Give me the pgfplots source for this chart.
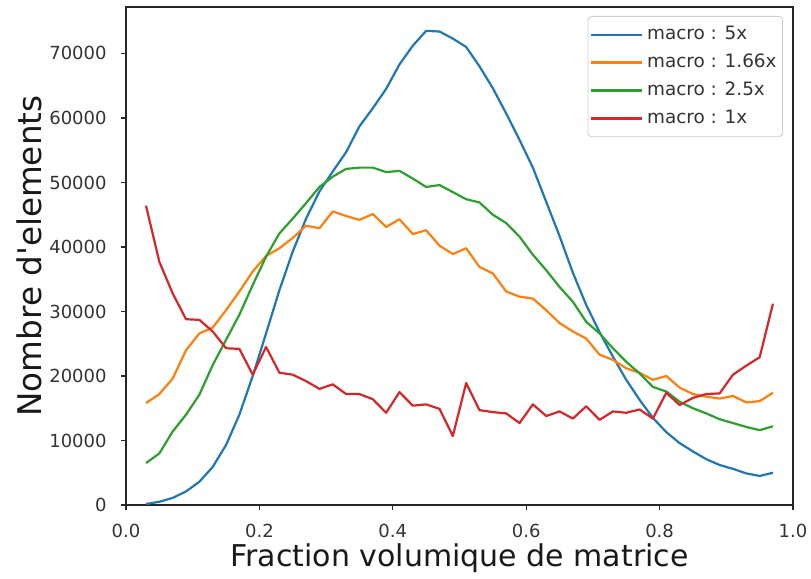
\documentclass[border=0pt]{standalone}
\usepackage{pgfplots}
\usepackage{pgfplotstable}
\pgfplotsset{compat=1.18}
\usepackage{fontspec}
\setmainfont{DejaVu Sans}
\definecolor{tabblue}{HTML}{1F77B4}
\definecolor{taborange}{HTML}{FF7F0E}
\definecolor{tabgreen}{HTML}{2CA02C}
\definecolor{tabred}{HTML}{D62728}
\pgfplotstableread{
x blue orange green red
0.03 150 15800 6500 46400
0.05 500 17200 8000 37700
0.07 1100 19600 11400 32800
0.09 2100 24000 14000 28800
0.11 3600 26600 17100 28700
0.13 5900 27500 21700 26900
0.15 9300 30200 25600 24300
0.17 14000 33100 29500 24200
0.19 20000 36200 34100 20200
0.21 26600 38600 38500 24500
0.23 33300 39800 42100 20500
0.25 39300 41400 44400 20200
0.27 44400 43300 46800 19200
0.29 48600 42900 49300 18000
0.31 51700 45500 50900 18700
0.33 54700 44800 52100 17200
0.35 58700 44200 52300 17200
0.37 61500 45100 52300 16400
0.39 64500 43100 51600 14300
0.41 68300 44300 51800 17500
0.43 71200 42000 50600 15400
0.45 73500 42600 49300 15600
0.47 73400 40200 49600 14900
0.49 72300 38900 48500 10700
0.51 71000 39800 47400 18900
0.53 68000 36900 46900 14700
0.55 64600 35900 45000 14400
0.57 60700 33100 43700 14200
0.59 56600 32300 41600 12700
0.61 52300 32000 38800 15600
0.63 47000 30200 36400 13800
0.65 41700 28200 33800 14500
0.67 36000 26900 31500 13400
0.69 31000 25800 28400 15300
0.71 26800 23300 26600 13200
0.73 23000 22500 24300 14500
0.75 19400 21200 22200 14300
0.77 16300 20500 20400 14800
0.79 13500 19400 18300 13400
0.81 11300 20000 17600 17400
0.83 9600 18200 16000 15500
0.85 8300 17200 15000 16600
0.87 7100 16800 14200 17200
0.89 6200 16500 13300 17300
0.91 5600 16900 12700 20200
0.93 4900 15900 12100 21600
0.95 4500 16100 11600 22900
0.97 5000 17400 12200 31200
}\datatable
\begin{document}
\begin{tikzpicture}
\begin{axis}[
  name=ax,
  scale only axis,
  width=333.5pt, height=249pt,
  xmin=0, xmax=1, ymin=0, ymax=77200,
  axis line style={black!85, line width=0.6pt},
  tick style={black!85, line width=0.6pt},
  tick align=outside,
  major tick length=2.5pt,
  xtick pos=bottom, ytick pos=left,
  xtick={0,0.2,0.4,0.6,0.8,1},
  xticklabels={0.0,0.2,0.4,0.6,0.8,1.0},
  ytick={0,10000,20000,30000,40000,50000,60000,70000},
  yticklabels={0,10000,20000,30000,40000,50000,60000,70000},
  xticklabel style={font=\fontsize{9}{10}\selectfont, text=black!80, inner sep=0pt, anchor=north, yshift=-7pt},
  yticklabel style={font=\fontsize{9}{10}\selectfont, text=black!80, inner sep=0pt, anchor=east, xshift=-7pt},
  /pgf/number format/assume math mode=true,
  xlabel={Fraction volumique de matrice},
  ylabel={Nombre d\textquotesingle elements},
  xlabel style={font=\fontsize{15}{17}\selectfont, text=black!90, inner sep=0pt, at={(axis description cs:0.5,0)}, anchor=base, yshift=-31pt},
  ylabel style={font=\fontsize{16.3}{18}\selectfont, text=black!90, inner sep=0pt, at={(axis description cs:-0.1265,0.5)}, anchor=base},
  legend style={at={(axis description cs:1,1)}, anchor=north east, xshift=-5pt, yshift=-4.5pt,
    draw=black!20, fill=white, fill opacity=0.8, text opacity=1, rounded corners=2pt,
    font=\fontsize{9.2}{10}\selectfont, text=black!80,
    row sep=1.7pt, inner xsep=1pt, inner ysep=3pt},
  legend cell align=left,
  legend image code/.code={\draw[#1, line width=1.1pt] (0pt,0pt) -- (20pt,0pt); \path (0pt,0pt) -- (25.5pt,0pt);},
  every axis plot/.append style={line width=1.1pt, line join=round},
]
\addplot[tabblue, no markers] table[x=x, y=blue] {\datatable};
\addlegendentry{macro : 5x}
\addplot[taborange, no markers] table[x=x, y=orange] {\datatable};
\addlegendentry{macro : 1.66x}
\addplot[tabgreen, no markers] table[x=x, y=green] {\datatable};
\addlegendentry{macro : 2.5x}
\addplot[tabred, no markers] table[x=x, y=red] {\datatable};
\addlegendentry{macro : 1x}
\end{axis}
\pgfresetboundingbox
\path (-63pt,-37pt) rectangle (342.5pt,252.5pt);
\end{tikzpicture}
\end{document}
